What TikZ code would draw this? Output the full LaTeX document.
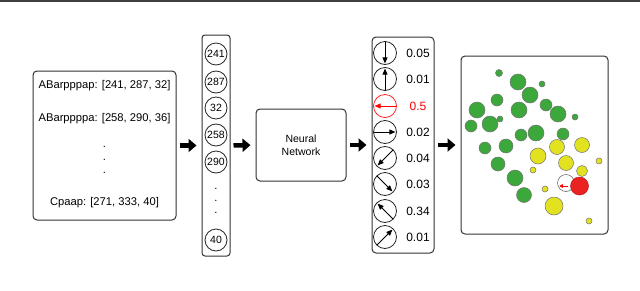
\documentclass[tikz,border=0pt]{standalone}
\usepackage{fontspec}
\setmainfont{Liberation Sans}
\usetikzlibrary{positioning, calc, arrows.meta}
\definecolor{bubgreen}{RGB}{60,168,60}
\definecolor{bubyellow}{RGB}{226,226,32}
\definecolor{bubred}{RGB}{234,34,34}

\begin{document}
\begin{tikzpicture}[x=1pt, y=-1pt,
			panel/.style={
					rectangle, draw=black!80, line width=1pt, fill=white,
					rounded corners=4pt, inner sep=0pt
				},
			cell/.style={
					circle, draw=black!85, line width=0.8pt, minimum size=22pt,
					inner sep=0pt, font=\fontsize{10.5}{10.5}\selectfont
				},
			dir/.style={
					circle, draw=black!85, line width=0.8pt, minimum size=23pt, inner sep=0pt
				},
			entry/.style={font=\fontsize{11.2}{12}\selectfont, inner sep=0pt},
			prob/.style={font=\fontsize{12}{12}\selectfont, inner sep=0pt},
			flow/.style={
					line width=4.5pt, -{Triangle[length=8pt, width=13pt]},
					shorten <=3pt, shorten >=5pt
				},
			needle/.style={line width=0.8pt, -{Triangle[length=6pt, width=5pt]}},
			bubble/.style={circle, draw=black!55, line width=0.5pt, inner sep=0pt}
		]

		\useasboundingbox (0,0) rectangle (640,290);

		% rule at the top of the page
		\draw[line width=1.6pt, black!75] (0,0.8) -- (640,0.8);

		% Input names with their codes
		\node[panel, minimum width=143pt, minimum height=149pt] (names) at (104.5,145.5) {};
		\node[entry] (n1) at (104.5,86) {ABarpppap: [241, 287, 32]};
		\node[entry] (n2) at (104.5,119) {ABarppppa: [258, 290, 36]};
		\foreach \y in {150,163,176}
			\node[entry] at (104.5,\y-3) {.};
		\node[entry] (n3) at (104.5,203) {Cpaap: [271, 333, 40]};

		% Column of input values
		\node[panel, rounded corners=3pt, minimum width=28pt, minimum height=221pt] (codes) at (216,145.5) {};
		\foreach \v/\y in {241/54, 287/82, 32/108, 258/135, 290/162, 40/240}
			\node[cell] (c\v) at (216,\y) {\v};
		\foreach \y in {192,204,216}
			\node[entry] at (216,\y-3) {.};

		% Network
		\node[panel, minimum width=90pt, minimum height=72pt, align=center,
			font=\fontsize{10.5}{12.5}\selectfont] (nn) at (301,145) {Neural\\Network};

		% Output directions and their probabilities
		\node[panel, minimum width=62pt, minimum height=216pt] (dirs) at (403,145) {};
		\foreach \i/\y/\a/\p/\c in {1/53/270/0.05/black, 2/79/90/0.01/black, 3/106/180/0.5/red,
				4/132/0/0.02/black, 5/158/225/0.04/black, 6/184/315/0.03/black,
				7/211/135/0.34/black, 8/237/45/0.01/black}{
				\pgfmathtruncatemacro{\b}{mod(\a+180,360)}
				\node[dir, draw=\c!85] (d\i) at (385,\y) {};
				\draw[needle, draw=\c, fill=\c, shorten <=0.5pt, shorten >=1.5pt] (d\i.\b) -- (d\i.\a);
				\node[prob, text=\c] (p\i) at (418,\y) {\p};
			}

		% Map of placed bubbles
		\node[panel, minimum width=147pt, minimum height=178pt] (map) at (534.5,145) {};
		\foreach \x/\y/\r in {499/73/3.5, 518/82/8, 542/84/3, 530/95/8, 497/100/6, 546/105/6,
				477/110/8, 519/110/8, 558/114/8, 575/117/3, 490/124/8, 500/119/3, 471/126/6,
				536/133/8, 521/135/6, 563/134/6, 485/148/6, 506/146/7, 498/164/7,
				515/178/8, 524/195/7.5}
			\node[bubble, fill=bubgreen, minimum size=2*\r pt] at (\x,\y) {};
		\foreach \x/\y/\r in {557/147/7.5, 582/145/7.5, 538/156/8, 566/163/7.5, 599/161/3,
				533/170/3, 582/171/5.5, 545/189/3, 554/206/9, 589/221/3}
			\node[bubble, fill=bubyellow, minimum size=2*\r pt] at (\x,\y) {};
		\node[bubble, fill=white, draw=black!65, minimum size=17pt] (ghost) at (566,183) {};
		\node[bubble, fill=bubred, draw=bubred!80!black, minimum size=18pt] (target) at (579.5,186) {};
		\draw[red, line width=0.8pt, -{Triangle[length=3.5pt, width=3.5pt]}, shorten <=2pt, shorten >=2pt]
			(target.west) -- (ghost.west |- target.west);

		% Flow between the stages
		\draw[flow] (names.east) -- (codes.west);
		\draw[flow] (codes.east) -- (nn.west);
		\draw[flow] (nn.east) -- (dirs.west);
		\draw[flow] (dirs.east) -- (map.west);

	\end{tikzpicture}
\end{document}
